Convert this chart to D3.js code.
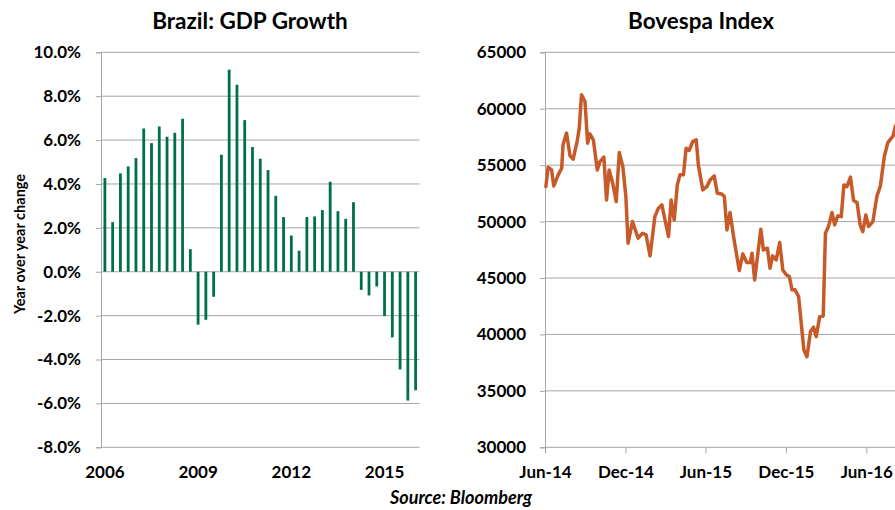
<!DOCTYPE html>
<html>
<head>
<meta charset="utf-8">
<script src="https://cdn.jsdelivr.net/npm/d3@7/dist/d3.min.js"></script>
<style>
  html, body { margin: 0; padding: 0; background: #ffffff; }
  svg { display: block; }
  text { font-family: Lato, "Open Sans", sans-serif; font-weight: 700; fill: #000; }
</style>
</head>
<body>
<svg id="chart" width="895" height="510"></svg>
<script>
// ---------- Data ----------
const gdpQuarters = [
  "2006Q1","2006Q2","2006Q3","2006Q4","2007Q1","2007Q2","2007Q3","2007Q4",
  "2008Q1","2008Q2","2008Q3","2008Q4","2009Q1","2009Q2","2009Q3","2009Q4",
  "2010Q1","2010Q2","2010Q3","2010Q4","2011Q1","2011Q2","2011Q3","2011Q4",
  "2012Q1","2012Q2","2012Q3","2012Q4","2013Q1","2013Q2","2013Q3","2013Q4",
  "2014Q1","2014Q2","2014Q3","2014Q4","2015Q1","2015Q2","2015Q3","2015Q4",
  "2016Q1"
];
const gdpGrowth = [
  4.27, 2.26, 4.48, 4.80, 5.18, 6.53, 5.86, 6.62,
  6.15, 6.33, 6.97, 1.03, -2.41, -2.19, -1.14, 5.33,
  9.21, 8.52, 6.91, 5.68, 5.15, 4.63, 3.46, 2.49,
  1.65, 0.96, 2.49, 2.52, 2.81, 4.10, 2.76, 2.41,
  3.17, -0.83, -1.08, -0.67, -2.02, -2.99, -4.45, -5.87,
  -5.40
];
const gdpYTicks = [-8, -6, -4, -2, 0, 2, 4, 6, 8, 10];
const gdpXTicks = ["2006Q1", "2009Q1", "2012Q1", "2015Q1"];

const bovDates = [
  "2014-06-03","2014-06-08","2014-06-16","2014-06-21","2014-07-01","2014-07-09","2014-07-12","2014-07-20",
  "2014-07-28","2014-08-04","2014-08-13","2014-08-18","2014-08-23","2014-08-31","2014-09-06","2014-09-11",
  "2014-09-19","2014-09-28","2014-10-04","2014-10-13","2014-10-19","2014-10-25","2014-11-02","2014-11-10",
  "2014-11-17","2014-11-25","2014-12-02","2014-12-07","2014-12-17","2014-12-22","2014-12-30","2015-01-09",
  "2015-01-17","2015-01-26","2015-02-06","2015-02-14","2015-02-22","2015-03-01","2015-03-09","2015-03-15",
  "2015-03-22","2015-03-29","2015-04-04","2015-04-12","2015-04-18","2015-04-25","2015-05-03","2015-05-11",
  "2015-05-16","2015-05-26","2015-06-04","2015-06-12","2015-06-21","2015-06-28","2015-07-08","2015-07-14",
  "2015-07-20","2015-07-27","2015-08-04","2015-08-17","2015-08-25","2015-09-03","2015-09-11","2015-09-15",
  "2015-09-21","2015-10-05","2015-10-11","2015-10-20","2015-10-26","2015-11-01","2015-11-09","2015-11-17",
  "2015-11-24","2015-12-02","2015-12-09","2015-12-15","2015-12-22","2015-12-30","2016-01-11","2016-01-18",
  "2016-01-26","2016-02-02","2016-02-08","2016-02-16","2016-02-24","2016-02-29","2016-03-07","2016-03-15",
  "2016-03-21","2016-03-28","2016-04-05","2016-04-11","2016-04-18","2016-04-26","2016-05-03","2016-05-11",
  "2016-05-18","2016-05-24","2016-05-31","2016-06-06","2016-06-16","2016-06-25","2016-07-03","2016-07-12",
  "2016-07-20","2016-08-01","2016-08-06","2016-08-12"
];
const bovValues = [
  53100, 54820, 54580, 53160, 54140, 54730, 56800, 57840,
  55820, 55530, 57090, 58280, 61230, 60640, 56950, 57770,
  57240, 54580, 55320, 55710, 51920, 54580, 53400, 51770,
  56120, 54880, 52220, 48080, 50000, 49420, 48530, 48970,
  48820, 46960, 50440, 51190, 51480, 50150, 48670, 51920,
  50150, 53250, 54140, 54140, 56500, 56300, 57090, 57240,
  55000, 52810, 53100, 53700, 54050, 52510, 52450, 52220,
  49260, 50800, 48670, 45660, 47140, 46370, 46370, 47200,
  44830, 49320, 47490, 47640, 45870, 46960, 46600, 48140,
  45720, 45280, 45130, 43950, 43950, 43350, 38630, 38030,
  40250, 40640, 39810, 41580, 41640, 48970, 49560, 50800,
  49710, 50500, 50440, 53250, 53100, 53940, 51860, 51680,
  49710, 49110, 50590, 49560, 50000, 52220, 53160, 55770,
  57000, 57600, 58420, 58900
];
const bovYTicks = [30000, 35000, 40000, 45000, 50000, 55000, 60000, 65000];
const bovXTicks = ["2014-06-01", "2014-12-01", "2015-06-01", "2015-12-01", "2016-06-01"];
const bovXLabels = ["Jun-14", "Dec-14", "Jun-15", "Dec-15", "Jun-16"];

// ---------- Setup ----------
const svg = d3.select("#chart");
const gridColor = "#a6a6a6";
const barColor = "#00704a";
const lineColor = "#c65a28";
const plotTop = 52.3, plotBottom = 447.3;

function styleText(sel) {
  sel.attr("font-size", 17).attr("font-family", "Lato").attr("font-weight", 700).attr("fill", "#000");
}

// ---------- Left chart: GDP growth ----------
const L = { left: 101, right: 419.5 };
const xL = d3.scaleBand().domain(gdpQuarters).range([L.left, L.right])
  .paddingInner(0.64).paddingOuter(0.32);
const yL = d3.scaleLinear().domain([-8, 10]).range([plotBottom, plotTop]);

const gL = svg.append("g");

gL.append("g").selectAll("line").data(gdpYTicks).join("line")
  .attr("x1", L.left).attr("x2", L.right)
  .attr("y1", d => yL(d)).attr("y2", d => yL(d))
  .attr("stroke", gridColor).attr("stroke-width", 1);

const yAxisL = gL.append("g").attr("transform", `translate(${L.left},0)`)
  .call(d3.axisLeft(yL).tickValues(gdpYTicks).tickSize(5).tickPadding(15)
    .tickFormat(d => d.toFixed(1) + "%"));
yAxisL.select(".domain").attr("stroke", gridColor);
yAxisL.selectAll(".tick line").attr("stroke", gridColor);
styleText(yAxisL.selectAll("text"));

gL.append("g").selectAll("rect").data(gdpQuarters).join("rect")
  .attr("x", d => xL(d))
  .attr("width", xL.bandwidth())
  .attr("y", (d, i) => yL(Math.max(0, gdpGrowth[i])))
  .attr("height", (d, i) => Math.abs(yL(gdpGrowth[i]) - yL(0)))
  .attr("fill", barColor);

const xAxisL = gL.append("g").attr("transform", `translate(0,${plotBottom})`)
  .call(d3.axisBottom(xL).tickValues(gdpXTicks).tickSize(0).tickPadding(19)
    .tickFormat(d => d.slice(0, 4)));
xAxisL.select(".domain").remove();
styleText(xAxisL.selectAll("text"));

gL.append("text").attr("x", 250).attr("y", 28.5).attr("text-anchor", "middle")
  .attr("font-size", 22.5).text("Brazil: GDP Growth");

gL.append("text").attr("transform", "translate(25,244) rotate(-90)")
  .attr("text-anchor", "middle").attr("font-size", 14.5).text("Year over year change");

// ---------- Right chart: Bovespa ----------
const R = { left: 545, right: 900 };
const parse = d3.utcParse("%Y-%m-%d");
const xR = d3.scaleUtc().domain([parse("2014-06-01"), parse("2016-06-01")]).range([545, 866.3]);
const yR = d3.scaleLinear().domain([30000, 65000]).range([plotBottom, plotTop]);

const gR = svg.append("g");

gR.append("g").selectAll("line").data(bovYTicks).join("line")
  .attr("x1", R.left).attr("x2", R.right)
  .attr("y1", d => yR(d)).attr("y2", d => yR(d))
  .attr("stroke", gridColor).attr("stroke-width", 1);

const yAxisR = gR.append("g").attr("transform", `translate(${R.left},0)`)
  .call(d3.axisLeft(yR).tickValues(bovYTicks).tickSize(5).tickPadding(14)
    .tickFormat(d3.format("d")));
yAxisR.select(".domain").attr("stroke", gridColor);
yAxisR.selectAll(".tick line").attr("stroke", gridColor);
styleText(yAxisR.selectAll("text"));

const xAxisR = gR.append("g").attr("transform", `translate(0,${plotBottom})`)
  .call(d3.axisBottom(xR).tickValues(bovXTicks.map(parse)).tickSize(6).tickPadding(13)
    .tickFormat((d, i) => bovXLabels[i]));
xAxisR.select(".domain").remove();
xAxisR.selectAll(".tick line").attr("stroke", gridColor);
styleText(xAxisR.selectAll("text"));

const bovData = bovDates.map((d, i) => ({ date: parse(d), value: bovValues[i] }));
gR.append("path").datum(bovData)
  .attr("fill", "none").attr("stroke", lineColor).attr("stroke-width", 3.5)
  .attr("stroke-linejoin", "round").attr("stroke-linecap", "round")
  .attr("d", d3.line().x(d => xR(d.date)).y(d => yR(d.value)));

gR.append("text").attr("x", 701).attr("y", 28.5).attr("text-anchor", "middle")
  .attr("font-size", 22.5).text("Bovespa Index");

svg.append("text").attr("x", 461).attr("y", 504).attr("text-anchor", "middle")
  .attr("font-size", 18).attr("font-style", "italic").text("Source: Bloomberg");
</script>
</body>
</html>
